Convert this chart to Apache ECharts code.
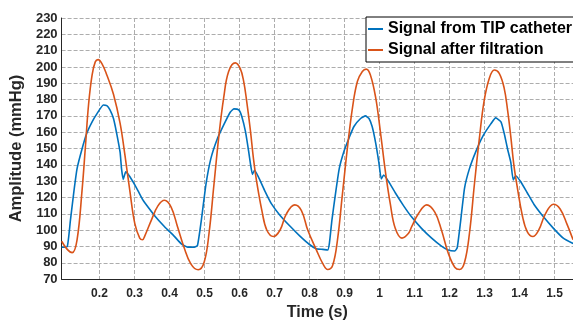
<!DOCTYPE html>
<html>
<head>
<meta charset="utf-8">
<script src="https://cdn.jsdelivr.net/npm/echarts@6/dist/echarts.min.js"></script>
<style>
  html, body { margin: 0; padding: 0; background: #fff; }
  #chart { width: 573px; height: 326px; }
</style>
</head>
<body>
<div id="chart"></div>
<script>
// signal from TIP catheter
var tipTime = [0.092, 0.108, 0.117, 0.127, 0.136, 0.150, 0.164, 0.179, 0.193, 0.211, 0.221, 0.230, 0.240, 0.249,
  0.259, 0.263, 0.268, 0.275, 0.287, 0.306, 0.324, 0.329, 0.357, 0.386, 0.414, 0.433, 0.452, 0.471, 0.480,
  0.491, 0.504, 0.518, 0.536, 0.555, 0.574, 0.584, 0.598, 0.607, 0.617, 0.626, 0.632, 0.637, 0.643, 0.654,
  0.673, 0.692, 0.716, 0.744, 0.772, 0.800, 0.819, 0.838, 0.852, 0.857, 0.864, 0.874, 0.885, 0.899, 0.913,
  0.927, 0.946, 0.960, 0.970, 0.979, 0.989, 0.998, 1.005, 1.012, 1.026, 1.045, 1.069, 1.092, 1.120, 1.149,
  1.177, 1.196, 1.215, 1.222, 1.232, 1.243, 1.257, 1.276, 1.295, 1.318, 1.332, 1.347, 1.356, 1.366, 1.375,
  1.382, 1.389, 1.403, 1.422, 1.441, 1.469, 1.497, 1.525, 1.553];
var tipAmp = [89.5, 90.0, 106.0, 123.8, 137.7, 149.6, 159.5, 166.4, 171.4, 176.7, 176.3, 173.7, 168.4, 159.5,
  147.6, 137.7, 131.1, 135.7, 132.7, 125.8, 118.5, 116.9, 109.0, 102.1, 96.2, 91.8, 89.6, 89.6, 90.6,
  106.0, 127.8, 143.7, 155.6, 164.5, 172.4, 174.3, 173.7, 169.4, 160.5, 148.6, 139.7, 134.2, 136.7, 132.7,
  123.8, 115.9, 109.0, 102.5, 96.5, 91.2, 88.6, 88.2, 87.8, 92.2, 106.0, 121.9, 137.7, 148.6, 156.5,
  163.5, 168.4, 170.0, 168.4, 163.5, 153.5, 141.7, 131.4, 133.8, 129.8, 122.9, 114.9, 108.0, 101.1, 95.1,
  90.2, 87.8, 87.2, 89.2, 106.0, 125.8, 137.7, 148.6, 157.5, 165.1, 168.8, 166.4, 159.5, 149.6, 141.7,
  130.8, 133.3, 129.8, 122.9, 115.9, 108.0, 101.1, 95.1, 91.8];

// signal after filtration
var filtTime = [0.092, 0.108, 0.122, 0.136, 0.150, 0.160, 0.169, 0.179, 0.188, 0.196, 0.207, 0.221, 0.240,
  0.259, 0.273, 0.287, 0.301, 0.315, 0.323, 0.329, 0.348, 0.367, 0.386, 0.405, 0.423, 0.442, 0.461, 0.482,
  0.499, 0.513, 0.527, 0.541, 0.555, 0.569, 0.588, 0.602, 0.612, 0.621, 0.631, 0.640, 0.649, 0.664, 0.678,
  0.697, 0.716, 0.734, 0.758, 0.777, 0.795, 0.819, 0.838, 0.852, 0.866, 0.880, 0.894, 0.909, 0.923, 0.937,
  0.951, 0.962, 0.974, 0.989, 1.003, 1.017, 1.031, 1.045, 1.064, 1.083, 1.092, 1.111, 1.135, 1.158, 1.177,
  1.196, 1.215, 1.229, 1.243, 1.257, 1.271, 1.285, 1.299, 1.314, 1.328, 1.342, 1.356, 1.366, 1.375, 1.384,
  1.394, 1.408, 1.422, 1.438, 1.455, 1.474, 1.497, 1.516, 1.535, 1.553];
var filtAmp = [93.2, 88.2, 86.2, 94.1, 123.8, 151.6, 177.3, 195.1, 203.1, 204.5, 202.1, 195.1, 183.3,
  165.4, 145.6, 123.8, 104.0, 95.1, 94.1, 96.2, 106.0, 114.9, 118.3, 114.0, 102.1, 89.2, 79.3, 75.7,
  80.3, 98.1, 127.8, 157.5, 181.3, 197.2, 202.5, 199.1, 191.2, 178.3, 161.5, 143.7, 129.8, 112.0, 100.1,
  96.1, 100.1, 110.0, 115.5, 112.0, 100.1, 88.2, 79.5, 75.9, 78.3, 94.1, 121.9, 151.6, 175.3, 191.2,
  197.2, 198.7, 195.1, 181.3, 159.5, 135.7, 115.9, 101.1, 95.1, 98.1, 102.1, 110.0, 115.5, 111.0, 100.1,
  86.2, 77.3, 75.9, 80.3, 98.1, 127.8, 155.6, 179.3, 193.2, 198.1, 196.1, 187.2, 173.4, 157.5, 139.7,
  125.8, 109.0, 99.1, 96.1, 100.1, 110.0, 115.9, 113.0, 104.0, 94.1];

var xTicks = [0.2, 0.3, 0.4, 0.5, 0.6, 0.7, 0.8, 0.9, 1.0, 1.1, 1.2, 1.3, 1.4, 1.5];
var seriesNames = ['Signal from TIP catheter', 'Signal after filtration'];

function pairs(xs, ys) {
  return xs.map(function (x, i) { return [x, ys[i]]; });
}

var font = 'Arial, "Liberation Sans", sans-serif';
var gridLine = { show: true, lineStyle: { color: '#adadad', type: [4, 2], width: 1 } };

var myChart = echarts.init(document.getElementById('chart'));
var option = {
  animation: false,
  backgroundColor: '#fff',
  grid: { left: 56, right: 0, top: 18, bottom: 39 },
  legend: {
    orient: 'vertical',
    left: 366,
    top: 17,
    padding: [4, 20, 4, 2],
    itemGap: 5,
    itemWidth: 15,
    itemHeight: 2,
    icon: 'rect',
    backgroundColor: '#fff',
    borderColor: '#000',
    borderWidth: 1,
    borderRadius: 0,
    textStyle: { fontFamily: font, fontWeight: 'bold', fontSize: 16, color: '#000' },
    data: seriesNames
  },
  xAxis: {
    type: 'value',
    min: 0.0918,
    max: 1.5528,
    name: 'Time (s)',
    nameLocation: 'middle',
    nameGap: 23,
    nameTextStyle: { fontFamily: font, fontWeight: 'bold', fontSize: 16, color: '#262626' },
    axisLine: { show: true, lineStyle: { color: '#262626', width: 1 } },
    axisTick: { show: false, customValues: xTicks },
    axisLabel: {
      customValues: xTicks,
      fontFamily: font, fontWeight: 'bold', fontSize: 12, color: '#262626', margin: 9
    },
    splitLine: gridLine
  },
  yAxis: {
    type: 'value',
    min: 70,
    max: 230,
    interval: 10,
    name: 'Amplitude (mmHg)',
    nameLocation: 'middle',
    nameGap: 28,
    nameTextStyle: { fontFamily: font, fontWeight: 'bold', fontSize: 16.5, color: '#262626' },
    axisLine: { show: true, lineStyle: { color: '#262626', width: 1 } },
    axisTick: { show: false },
    axisLabel: { fontFamily: font, fontWeight: 'bold', fontSize: 13, color: '#262626', margin: 4 },
    splitLine: gridLine
  },
  series: [
    {
      name: seriesNames[0],
      type: 'line',
      symbol: 'none',
      smooth: 0.15,
      lineStyle: { color: '#0072BD', width: 1.6 },
      itemStyle: { color: '#0072BD' },
      data: pairs(tipTime, tipAmp)
    },
    {
      name: seriesNames[1],
      type: 'line',
      symbol: 'none',
      smooth: 0.4,
      lineStyle: { color: '#D95319', width: 1.6 },
      itemStyle: { color: '#D95319' },
      data: pairs(filtTime, filtAmp)
    }
  ]
};
myChart.setOption(option);
</script>
</body>
</html>
